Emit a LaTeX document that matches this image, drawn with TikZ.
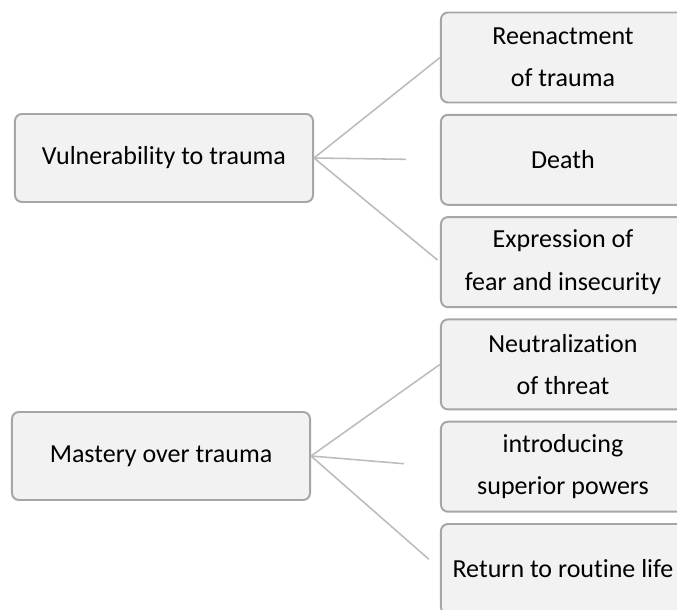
\documentclass[tikz,border=0pt]{standalone}
\usepackage{fontspec}
\setmainfont{Carlito}[Ligatures={NoCommon,NoContextual}]

\definecolor{boxfill}{HTML}{F2F2F2}
\definecolor{boxline}{HTML}{A6A6A6}
\definecolor{linkgrey}{HTML}{BCBCBC}

\begin{document}
\begin{tikzpicture}[x=0.025cm, y=-0.025cm]

  \tikzstyle{box}=[draw=boxline, fill=boxfill, line width=1.4pt, rounded corners=5pt,
    align=center, font=\fontsize{18.5}{30}\selectfont]
  \tikzstyle{lbox}=[box, minimum width=7.45cm, minimum height=2.2cm]
  \tikzstyle{rbox}=[box, minimum width=6.1cm, minimum height=2.25cm]
  \tikzstyle{link}=[draw=linkgrey, line width=1.1pt]

  \fill[white] (0,0) rectangle (677,610);
  \useasboundingbox (0,0) rectangle (677,610);

  \edef\boxgap{102.3}

  % left boxes
  \node[lbox] (vul) at (164,158) {Vulnerability to trauma};
  \node[lbox] (mas) at (161,456) {Mastery over trauma};

  % right boxes
  \foreach \name/\txt [count=\i] in {reen/{Reenactment\\of trauma}, death/Death,
      expr/{Expression of\\fear and insecurity}, neut/{Neutralization\\of threat},
      intro/{introducing\\superior powers}, ret/Return to routine life}
    {
      \pgfmathsetmacro{\y}{57.5 + (\i - 1) * \boxgap}
      \node[rbox] (\name) at (563,\y) {\txt};
    }

  % links
  \draw[link] (vul.east) -- (reen.west);
  \draw[link, shorten >=0.85cm] (vul.east) -- (death.west);
  \draw[link, shorten >=0.08cm] (vul.east) -- (expr.west);

  \draw[link] (mas.east) -- (neut.west);
  \draw[link, shorten >=0.9cm] (mas.east) -- (intro.west);
  \draw[link, shorten >=0.37cm] (mas.east) -- (ret.west);
\end{tikzpicture}
\end{document}
